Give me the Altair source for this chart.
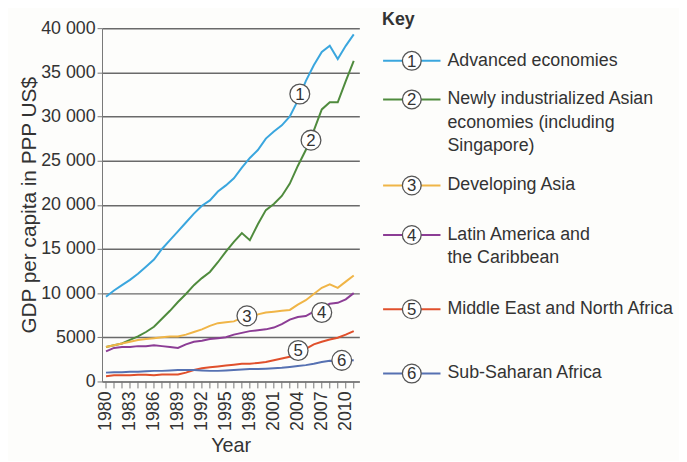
import altair as alt
import pandas as pd

years = list(range(1980, 2012))
label_years_axis = list(range(1980, 2012, 3))

advanced = [9600, 10300, 10900, 11500, 12200, 13000, 13800, 15000, 16000, 17000,
            18000, 19000, 19900, 20500, 21500, 22200, 23000, 24200, 25300, 26200,
            27500, 28300, 29000, 30000, 31800, 34000, 35800, 37300, 38000, 36500,
            38000, 39300]
nie_asia = [3900, 4100, 4300, 4700, 5100, 5600, 6200, 7100, 8000, 9000,
            9900, 10900, 11700, 12400, 13500, 14700, 15800, 16800, 16000, 17800,
            19400, 20100, 21000, 22400, 24400, 26200, 28400, 30800, 31600, 31600,
            34000, 36300]
dev_asia = [3900, 4100, 4300, 4500, 4700, 4800, 4900, 5000, 5100, 5100,
            5300, 5600, 5900, 6300, 6600, 6700, 6800, 7200, 7300, 7600,
            7800, 7900, 8000, 8100, 8700, 9200, 9900, 10600, 11000, 10600,
            11300, 12000]
latam = [3400, 3800, 3900, 3900, 4000, 4000, 4100, 4000, 3900, 3800,
         4200, 4500, 4600, 4800, 4900, 5000, 5300, 5500, 5700, 5800,
         5900, 6100, 6500, 7000, 7300, 7400, 7900, 8400, 8800, 8900,
         9300, 10000]
mena = [600, 700, 700, 700, 750, 750, 700, 800, 800, 800,
        1000, 1300, 1500, 1600, 1700, 1800, 1900, 2000, 2000, 2100,
        2200, 2400, 2600, 2800, 3200, 3700, 4200, 4500, 4750, 4950,
        5300, 5700]
ssa = [1000, 1050, 1050, 1100, 1100, 1150, 1200, 1200, 1250, 1300,
       1300, 1300, 1250, 1200, 1200, 1250, 1300, 1350, 1400, 1400,
       1450, 1500, 1550, 1650, 1750, 1850, 2000, 2200, 2350, 2300,
       2350, 2400]

series_names = ["Advanced economies",
                "Newly industrialized Asian economies (including Singapore)",
                "Developing Asia", "Latin America and the Caribbean",
                "Middle East and North Africa", "Sub-Saharan Africa"]
series_values = [advanced, nie_asia, dev_asia, latam, mena, ssa]
series_colors = ["#3aa6de", "#4f8b3d", "#f0b547", "#8c3d95", "#e0502c", "#5671b2"]

legend_lines = [["Advanced economies"],
                ["Newly industrialized Asian", "economies (including", "Singapore)"],
                ["Developing Asia"],
                ["Latin America and", "the Caribbean"],
                ["Middle East and North Africa"],
                ["Sub-Saharan Africa"]]

label_nums = ["1", "2", "3", "4", "5", "6"]
label_years = [2004.25, 2005.65, 1997.63, 2007.0, 2004.04, 2009.5]
label_vals = [32540, 27320, 7430, 7810, 3510, 2390]

# layout (pixels relative to plot area) for the hand-drawn key
key_item_y = [33, 72, 159, 209, 284, 349]
key_line_gap = 23.5

rows = []
for name, vals in zip(series_names, series_values):
    for yr, v in zip(years, vals):
        rows.append({"year": yr, "value": v, "series": name})
df = pd.DataFrame(rows)

lab_df = pd.DataFrame({"year": label_years, "value": label_vals, "num": label_nums})
tick_df = pd.DataFrame({"year": years})
ylab_df = pd.DataFrame({"year": label_years_axis,
                        "txt": [str(y) for y in label_years_axis]})

FONT = "Liberation Sans"
TXT = "#333333"
AXC = "#777777"
H = 357

xscale = alt.Scale(domain=[1979.5, 2011.7], nice=False, zero=False)
x_enc = alt.X("year:Q", scale=xscale,
              axis=alt.Axis(values=label_years_axis, labels=False, ticks=False,
                            domainColor=AXC, grid=False, title="Year",
                            titleFontSize=20, titleFontWeight="normal",
                            titleColor=TXT, titlePadding=55))
y_enc = alt.Y("value:Q",
              scale=alt.Scale(domain=[0, 40000], nice=False),
              axis=alt.Axis(values=[0, 5000, 10000, 15000, 20000, 25000, 30000, 35000, 40000],
                            labelExpr="datum.value >= 10000 ? replace(format(datum.value, ','), ',', ' ') : format(datum.value, 'd')",
                            labelFontSize=18, labelColor=TXT, labelPadding=2,
                            tickSize=5, tickColor=AXC, domainColor=AXC,
                            grid=True, gridColor="#6a6a6a", gridWidth=1.5,
                            title="GDP per capita in PPP US$", titleFontSize=21,
                            titleFontWeight="normal", titleColor=TXT, titlePadding=1))

lines = alt.Chart(df).mark_line(strokeWidth=2).encode(
    x=x_enc, y=y_enc,
    color=alt.Color("series:N", scale=alt.Scale(domain=series_names, range=series_colors),
                    legend=None),
    detail="series:N")

year_ticks = alt.Chart(tick_df).mark_rule(color=AXC, strokeWidth=1).encode(
    x=alt.X("year:Q", scale=xscale), y=alt.value(H), y2=alt.value(H + 7))

year_labels = alt.Chart(ylab_df).mark_text(angle=270, align="right", baseline="middle",
                                           fontSize=18, color=TXT, font=FONT).encode(
    x=alt.X("year:Q", scale=xscale), y=alt.value(H + 10), text="txt:N")

circ = alt.Chart(lab_df).mark_point(shape="circle", filled=True, fill="white",
                                    stroke="#555555", strokeWidth=1.3, size=400,
                                    opacity=1).encode(x="year:Q", y="value:Q")
nums = alt.Chart(lab_df).mark_text(fontSize=17, color=TXT, font=FONT,
                                   baseline="middle", dy=1).encode(
    x="year:Q", y="value:Q", text="num:N")

layers = [lines, year_ticks, year_labels, circ, nums]

one = pd.DataFrame({"k": [0]})
layers.append(alt.Chart(one).mark_text(text="Key", fontSize=18, fontWeight="bold",
                                       color=TXT, font=FONT, align="left",
                                       baseline="middle").encode(
    x=alt.value(283), y=alt.value(-8)))
for i, (yy, col, txts) in enumerate(zip(key_item_y, series_colors, legend_lines)):
    layers.append(alt.Chart(one).mark_rule(color=col, strokeWidth=2).encode(
        x=alt.value(284), x2=alt.value(342), y=alt.value(yy)))
    layers.append(alt.Chart(one).mark_point(shape="circle", filled=True, fill="white",
                                            stroke="#555555", strokeWidth=1.3,
                                            size=360, opacity=1).encode(
        x=alt.value(313), y=alt.value(yy)))
    layers.append(alt.Chart(one).mark_text(text=label_nums[i], fontSize=17, color=TXT,
                                           font=FONT, baseline="middle", dy=1).encode(
        x=alt.value(313), y=alt.value(yy)))
    for j, t in enumerate(txts):
        layers.append(alt.Chart(one).mark_text(text=t, fontSize=18, color=TXT, font=FONT,
                                               align="left", baseline="middle").encode(
            x=alt.value(349), y=alt.value(yy + j * key_line_gap)))

chart = alt.layer(*layers).properties(
    width=260, height=H,
    padding={"left": 95, "top": 18, "right": 323, "bottom": 78},
    autosize=alt.AutoSizeParams(type="none"),
    background="#fdfdfb",
).configure(font=FONT).configure_view(stroke=None)

chart.save("out.html", embed_options={"renderer": "svg", "actions": False})
